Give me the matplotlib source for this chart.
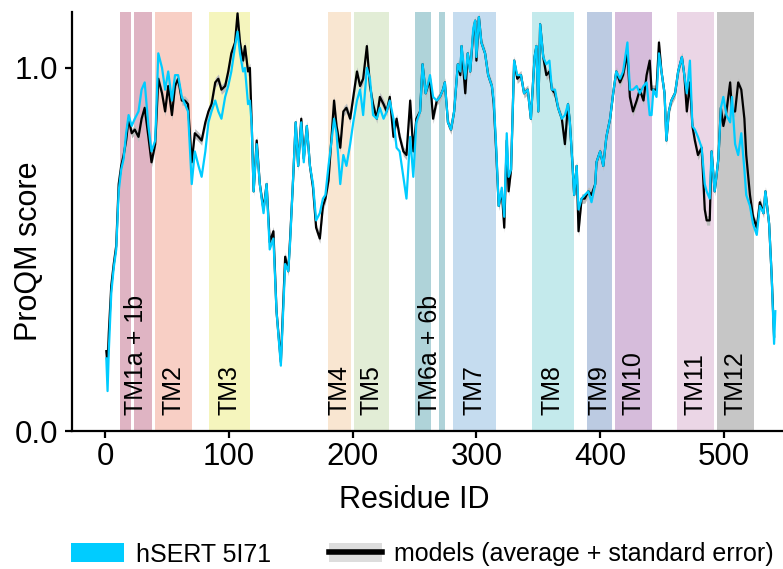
import numpy as np
import matplotlib
matplotlib.use("Agg")
import matplotlib.pyplot as plt
from matplotlib.patches import Patch
from matplotlib.lines import Line2D

plt.rcParams['font.family'] = ['Liberation Sans', 'DejaVu Sans']

# helices: label, spans (start, end residue), colour
helix_labels = ['TM1a + 1b', 'TM2', 'TM3', 'TM4', 'TM5', 'TM6a + 6b',
                'TM7', 'TM8', 'TM9', 'TM10', 'TM11', 'TM12']
helix_spans = [[(12, 21), (23.5, 38)], [(40.5, 70)], [(84, 117)], [(180.5, 199)],
               [(201, 229)], [(250, 263), (270, 275)], [(281, 316)], [(345, 378.5)],
               [(389, 409.5)], [(412, 442)], [(462, 492)], [(494, 524.5)]]
helix_colors = ['#dfb4c3', '#f8cfc5', '#f5f5bd', '#f9e6d1', '#e2edd6', '#afd3d9',
                '#c5dcef', '#c4eaec', '#bccbe2', '#d6bcdb', '#ebd6e6', '#c6c6c6']

residue = [1, 2, 3, 5, 7, 9, 11, 13, 15, 17, 19, 21.5, 24, 27, 29.5, 32, 35, 37.5, 40.5,
           43, 46, 48.5, 51, 54, 56.5, 59, 62, 64.5, 67, 70, 72.5, 75.5, 78, 81, 83.5,
           86, 89, 91.5, 94, 97, 99.5, 102, 105, 107, 109, 111.5, 113, 115.5, 117,
           118.5, 120, 122.5, 125, 128, 130.5, 133, 136, 138.5, 142, 145.5, 148,
           149.5, 152, 154, 156, 158.5, 160.5, 163, 165.5, 168, 170.5, 173.5, 176,
           178, 180.5, 183, 185, 187, 190, 192.5, 195, 198, 200.5, 203.5, 206, 208.5,
           211.5, 214, 216.5, 219.5, 222, 225, 227.5, 230, 233, 235.5, 238, 241,
           243.5, 246.5, 249, 251.5, 254.5, 256.5, 259, 262.5, 265, 268, 270.5, 273,
           274.5, 277, 279.5, 282, 285, 287, 288, 291, 293, 295, 297.5, 299, 300,
           302, 304, 307, 309.5, 312.5, 314, 316, 318, 320.5, 322.5, 324.5, 326,
           328, 330.5, 333, 336, 338.5, 341.5, 344, 347, 348.5, 350, 351.5, 354,
           356.5, 359, 361, 363.5, 366, 369, 371.5, 374, 375.5, 377.5, 379, 381,
           382.5, 385, 387.5, 390.5, 393, 396, 397, 400, 402.5, 405, 408, 410.5,
           413, 416, 418.5, 422, 424, 426.5, 429.5, 432, 435, 437.5, 440, 441.5,
           443, 445.5, 447.5, 449.5, 452, 453.5, 455.5, 457.5, 460.5, 463, 466, 468,
           470, 472.5, 474.5, 476.5, 479, 482, 484.5, 486, 488.5, 490, 492.5, 495.5,
           497.5, 499.5, 502, 505, 506.5, 509, 511.5, 514, 516.5, 518, 521, 523.5,
           526.5, 529, 532, 533.5, 536.5, 538.5, 540.5, 541.5]

# models (average)
model_avg = [0.22, 0.18, 0.27, 0.40, 0.46, 0.51, 0.68, 0.73, 0.76, 0.80, 0.86, 0.82, 0.83,
             0.81, 0.86, 0.89, 0.81, 0.74, 0.79, 0.97, 0.93, 0.88, 0.95, 0.87, 0.95, 0.97,
             0.91, 0.91, 0.90, 0.74, 0.82, 0.81, 0.80, 0.85, 0.88, 0.90, 0.96, 0.97, 0.94,
             0.95, 0.99, 1.04, 1.07, 1.15, 1.07, 1.02, 1.06, 0.99, 1.00, 0.84, 0.66, 0.80,
             0.68, 0.61, 0.68, 0.52, 0.55, 0.33, 0.19, 0.48, 0.44, 0.53, 0.70, 0.85, 0.73,
             0.86, 0.75, 0.84, 0.73, 0.67, 0.56, 0.53, 0.62, 0.64, 0.69, 0.81, 0.91, 0.84,
             0.78, 0.88, 0.89, 0.86, 0.92, 0.99, 0.95, 0.97, 1.06, 0.95, 0.90, 0.86, 0.92,
             0.90, 0.88, 0.92, 0.81, 0.86, 0.81, 0.77, 0.76, 0.91, 0.77, 0.86, 0.88, 1.01,
             0.93, 0.97, 0.86, 0.91, 0.92, 0.94, 0.96, 0.85, 0.83, 0.88, 1.01, 0.98, 1.06,
             0.93, 1.04, 0.99, 1.10, 1.13, 1.02, 1.14, 1.07, 1.04, 0.98, 0.95, 0.90, 0.77,
             0.62, 0.66, 0.56, 0.80, 0.66, 0.72, 1.02, 0.97, 0.98, 0.93, 0.94, 0.86, 1.03,
             1.06, 0.88, 1.12, 1.03, 0.98, 0.99, 0.94, 0.93, 0.89, 0.86, 0.79, 0.90, 0.85,
             0.74, 0.65, 0.73, 0.55, 0.64, 0.64, 0.66, 0.65, 0.68, 0.74, 0.77, 0.73, 0.81,
             0.86, 0.93, 0.99, 0.96, 0.98, 1.04, 0.92, 0.88, 0.91, 0.94, 0.91, 0.98, 1.02,
             0.94, 0.94, 0.94, 1.07, 0.99, 0.93, 0.80, 0.88, 0.91, 0.93, 0.99, 1.03, 0.98,
             0.88, 0.96, 0.84, 0.80, 0.76, 0.78, 0.61, 0.58, 0.58, 0.77, 0.66, 0.75, 0.89,
             0.84, 0.88, 0.96, 0.88, 0.88, 0.96, 0.94, 0.86, 0.76, 0.65, 0.59, 0.56, 0.63,
             0.60, 0.66, 0.57, 0.43, 0.26, np.nan]
model_se = 0.013

# hSERT 5I71
hsert = [0.20, 0.11, 0.22, 0.38, 0.45, 0.50, 0.66, 0.72, 0.75, 0.82, 0.87, 0.84, 0.86,
         0.88, 0.94, 0.96, 0.84, 0.77, 0.80, 1.04, 1.00, 0.94, 0.99, 0.91, 0.98, 0.98,
         0.92, 0.90, 0.88, 0.68, 0.77, 0.73, 0.70, 0.77, 0.85, 0.88, 0.91, 0.88, 0.86,
         0.92, 0.95, 0.99, 1.06, 1.10, 1.04, 0.99, 1.00, 0.90, 0.91, 0.84, 0.66, 0.79,
         0.68, 0.60, 0.68, 0.50, 0.53, 0.33, 0.18, 0.46, 0.44, 0.52, 0.70, 0.85, 0.73,
         0.85, 0.74, 0.84, 0.73, 0.68, 0.58, 0.60, 0.64, 0.65, 0.73, 0.80, 0.86, 0.82,
         0.68, 0.76, 0.73, 0.79, 0.85, 0.91, 0.94, 0.87, 1.00, 0.97, 0.87, 0.86, 0.89,
         0.86, 0.88, 0.91, 0.86, 0.78, 0.77, 0.70, 0.64, 0.81, 0.70, 0.85, 0.88, 1.01,
         0.93, 0.98, 0.92, 0.91, 0.92, 0.94, 0.96, 0.85, 0.83, 0.88, 1.01, 0.99, 1.06,
         0.97, 1.04, 0.99, 1.11, 1.13, 1.03, 1.14, 1.07, 1.04, 0.98, 0.95, 0.91, 0.78,
         0.62, 0.67, 0.59, 0.82, 0.70, 0.72, 1.02, 0.98, 0.98, 0.93, 0.94, 0.86, 1.03,
         1.06, 0.88, 1.12, 1.03, 1.01, 1.02, 0.94, 0.94, 0.89, 0.86, 0.87, 0.90, 0.85,
         0.74, 0.65, 0.73, 0.61, 0.64, 0.65, 0.66, 0.63, 0.68, 0.74, 0.77, 0.73, 0.81,
         0.86, 0.93, 0.99, 0.97, 0.99, 1.07, 0.94, 0.94, 0.95, 0.93, 0.95, 0.96, 0.87,
         0.87, 0.94, 0.92, 1.04, 0.99, 0.93, 0.80, 0.88, 0.91, 0.93, 0.99, 1.03, 0.98,
         0.93, 1.02, 0.84, 0.83, 0.81, 0.78, 0.68, 0.66, 0.64, 0.77, 0.66, 0.75, 0.89,
         0.92, 0.87, 0.85, 0.92, 0.79, 0.76, 0.82, 0.72, 0.65, 0.62, 0.57, 0.54, 0.62,
         0.60, 0.66, 0.57, 0.43, 0.24, 0.33]

cyan = '#00ccff'

fig = plt.figure(figsize=(7.83, 5.69), dpi=100)
ax = fig.add_axes([0.092, 0.2425, 0.908, 0.7365])

for spans, col in zip(helix_spans, helix_colors):
    for a, b in spans:
        ax.axvspan(a, b, facecolor=col, edgecolor='none', zorder=0)
for name, spans in zip(helix_labels, helix_spans):
    xc = (spans[0][0] + spans[-1][1]) / 2
    ax.text(xc, 0.044, name, rotation=90, ha='center', va='bottom', fontsize=18, zorder=1)

res = np.array(residue)
avg = np.array(model_avg)
ax.fill_between(res, avg - model_se, avg + model_se, color='#bdbdbd', lw=0, zorder=2)
ax.plot(res, avg, color='black', lw=1.6, zorder=3)
ax.plot(res, hsert, color=cyan, lw=1.6, zorder=4)

ax.set_xlim(-26.7, 547.7)
ax.set_ylim(0, 1.154)
ax.set_xticks([0, 100, 200, 300, 400, 500])
ax.set_yticks([0, 1.0])
ax.set_yticklabels(['0.0', '1.0'])
for s in ['top', 'right']:
    ax.spines[s].set_visible(False)
for s in ['left', 'bottom']:
    ax.spines[s].set_linewidth(1.6)
ax.tick_params(axis='both', length=5, width=1.6, labelsize=22.5)
ax.tick_params(axis='x', pad=3)
ax.tick_params(axis='y', pad=5)

ax.set_xlabel('Residue ID', fontsize=22)
ax.set_ylabel('ProQM score', fontsize=22)
ax.xaxis.set_label_coords(0.481, -0.13)
ax.yaxis.set_label_coords(-0.04, 0.428)

handles = [Patch(facecolor=cyan, edgecolor='none'),
           (Patch(facecolor='#dddddd', edgecolor='none'), Line2D([], [], color='black', lw=4))]
fig.legend(handles, ['hSERT 5I71', 'models (average + standard error)'],
           loc='lower left', bbox_to_anchor=(0.088, 0.0), ncol=2, frameon=False,
           fontsize=18, handlelength=2.1, handleheight=0.8, handletextpad=0.5,
           columnspacing=2.3, borderpad=0.1, borderaxespad=0)

plt.savefig('out.png', dpi=100)
